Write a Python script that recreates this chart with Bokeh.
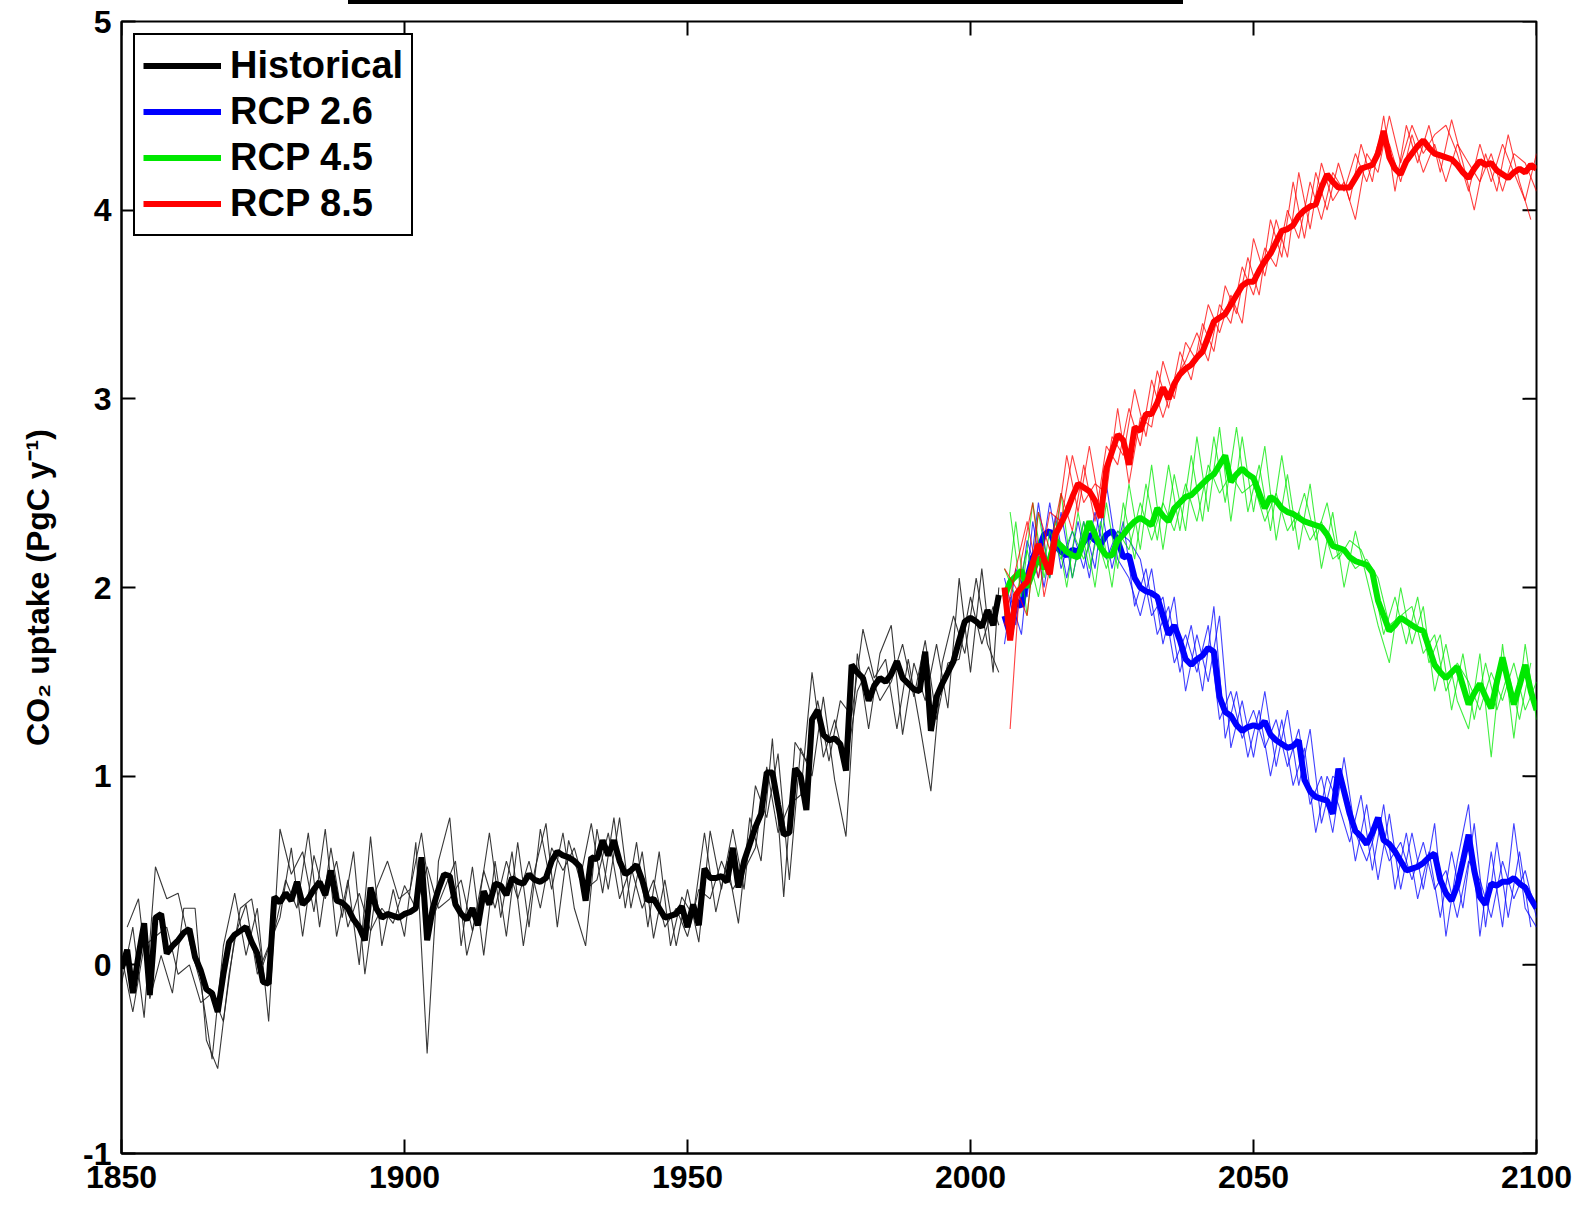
import math
from bokeh.plotting import figure
from bokeh.models import (Legend, LegendItem, FixedTicker, Range1d, Div)
from bokeh.layouts import column
from bokeh.embed import file_html
from bokeh.resources import INLINE

# ---------------- data ----------------
hist_years = list(range(1850, 2006))
hist_mean = [
    -0.02, 0.08, -0.15, 0.05, 0.22, -0.16, 0.25, 0.27, 0.06, 0.10,   # 1850s
    0.13, 0.17, 0.19, 0.04, -0.03, -0.13, -0.15, -0.25, -0.05, 0.12,  # 1860s
    0.16, 0.18, 0.20, 0.12, 0.06, -0.09, -0.10, 0.36, 0.33, 0.38,     # 1870s
    0.34, 0.44, 0.32, 0.35, 0.40, 0.44, 0.37, 0.50, 0.34, 0.33,       # 1880s
    0.30, 0.24, 0.20, 0.13, 0.41, 0.30, 0.25, 0.27, 0.26, 0.25,       # 1890s
    0.27, 0.28, 0.30, 0.57, 0.13, 0.30, 0.40, 0.48, 0.47, 0.32,       # 1900s
    0.27, 0.24, 0.30, 0.21, 0.39, 0.32, 0.43, 0.42, 0.37, 0.46,       # 1910s
    0.44, 0.43, 0.48, 0.45, 0.44, 0.46, 0.55, 0.60, 0.58, 0.57,       # 1920s
    0.55, 0.52, 0.34, 0.57, 0.56, 0.66, 0.58, 0.66, 0.55, 0.48,       # 1930s
    0.50, 0.53, 0.45, 0.34, 0.35, 0.30, 0.25, 0.26, 0.27, 0.31,       # 1940s
    0.20, 0.32, 0.21, 0.51, 0.46, 0.46, 0.47, 0.44, 0.62, 0.41,       # 1950s
    0.55, 0.64, 0.73, 0.80, 1.02, 1.02, 0.85, 0.69, 0.70, 1.04,       # 1960s
    1.00, 0.82, 1.30, 1.35, 1.22, 1.19, 1.20, 1.17, 1.03, 1.59,       # 1970s
    1.55, 1.52, 1.40, 1.48, 1.52, 1.50, 1.54, 1.61, 1.52, 1.49,       # 1980s
    1.46, 1.45, 1.66, 1.24, 1.42, 1.49, 1.55, 1.61, 1.72, 1.82,       # 1990s
    1.84, 1.82, 1.79, 1.88, 1.80, 1.96,                               # 2000-2005
]

hist_even_years = list(range(1850, 2005, 2)) + [2005]
hist_odd_years = list(range(1851, 2006, 2))
hist_member_a = [
    -0.10, 0.20, -0.28, 0.52, 0.35, 0.38, 0.12, -0.10, -0.50, 0.10,
    0.38, 0.05, 0.30, -0.30, 0.72, 0.48, 0.60, 0.28, 0.72, 0.15,
    0.45, 0.00, 0.68, 0.10, 0.40, 0.15, 0.65, -0.47, 0.55, 0.78,
    0.10, 0.52, 0.05, 0.55, 0.15, 0.65, 0.20, 0.72, 0.40, 0.70,
    0.30, 0.10, 0.72, 0.40, 0.78, 0.30, 0.60, 0.14, 0.45, 0.10,
    0.40, 0.12, 0.71, 0.40, 0.72, 0.40, 0.95, 0.78, 1.12, 0.45,
    1.15, 1.00, 1.42, 0.98, 0.68, 1.65, 1.25, 1.65, 1.80, 1.22,
    1.60, 1.40, 1.70, 1.36, 2.05, 1.55, 2.10, 1.55, 2.00,
]
hist_member_b = [
    0.20, 0.35, -0.18, 0.05, -0.15, 0.30, 0.30, -0.40, -0.55, -0.05,
    0.30, 0.35, 0.00, 0.18, 0.45, 0.30, 0.70, 0.20, 0.62, 0.25,
    0.60, -0.05, 0.40, 0.55, 0.35, 0.40, 0.70, 0.25, 0.40, 0.55,
    0.05, 0.30, 0.70, 0.25, 0.60, 0.10, 0.50, 0.75, 0.20, 0.66,
    0.45, 0.75, 0.38, 0.78, 0.30, 0.65, 0.20, 0.60, 0.10, 0.36,
    0.26, 0.70, 0.28, 0.55, 0.22, 0.78, 0.55, 1.20, 0.36, 1.18,
    1.08, 1.40, 1.08, 1.40, 1.32, 1.78, 1.52, 1.62, 1.25, 1.62,
    1.28, 0.92, 1.60, 1.85, 1.65, 2.05, 1.70, 1.55,
]
hist_member_c = [
    0.05, -0.25, 0.10, 0.15, 0.20, -0.05, 0.00, -0.20, -0.15, -0.30,
    0.15, 0.32, -0.05, 0.10, 0.25, 0.62, 0.15, 0.58, 0.35, 0.55,
    0.20, 0.38, 0.18, 0.30, 0.22, 0.42, 0.30, 0.52, 0.30, 0.35,
    0.45, 0.18, 0.50, 0.30, 0.55, 0.35, 0.55, 0.30, 0.62, 0.50,
    0.62, 0.40, 0.45, 0.70, 0.35, 0.52, 0.30, 0.45, 0.20, 0.30,
    0.15, 0.40, 0.35, 0.55, 0.40, 0.50, 0.62, 1.05, 0.70, 0.85,
    0.90, 1.55, 1.10, 1.30, 1.05, 1.45, 1.58, 1.40, 1.50, 1.70,
    1.42, 1.72, 1.30, 1.60, 1.62, 1.95, 1.70, 1.90, 1.80,
]

rcp_years = list(range(2006, 2101))
rcp26_mean = [
    1.85, 1.75, 1.93, 1.90, 2.05, 2.16, 2.20, 2.28, 2.30, 2.22,   # 2006-2015
    2.19, 2.17, 2.20, 2.19, 2.24, 2.28, 2.25, 2.23, 2.28, 2.30,   # 2016-2025
    2.25, 2.16, 2.17, 2.05, 2.00, 1.98, 1.97, 1.95, 1.85, 1.75,   # 2026-2035
    1.80, 1.72, 1.62, 1.59, 1.62, 1.64, 1.68, 1.66, 1.42, 1.34,   # 2036-2045
    1.32, 1.27, 1.24, 1.26, 1.27, 1.26, 1.29, 1.22, 1.19, 1.17,   # 2046-2055
    1.15, 1.16, 1.19, 0.98, 0.92, 0.89, 0.88, 0.87, 0.80, 1.04,   # 2056-2065
    0.92, 0.80, 0.71, 0.68, 0.64, 0.70, 0.78, 0.66, 0.64, 0.60,   # 2066-2075
    0.55, 0.50, 0.51, 0.52, 0.54, 0.57, 0.59, 0.45, 0.38, 0.34,   # 2076-2085
    0.42, 0.55, 0.69, 0.50, 0.36, 0.32, 0.43, 0.42, 0.44, 0.44,   # 2086-2095
    0.46, 0.43, 0.41, 0.35, 0.30,                                 # 2096-2100
]
rcp45_mean = [
    1.95, 2.03, 2.06, 2.09, 2.00, 2.08, 2.16, 2.10, 2.15, 2.25,
    2.22, 2.19, 2.17, 2.16, 2.25, 2.35, 2.28, 2.21, 2.17, 2.17,
    2.25, 2.28, 2.32, 2.35, 2.37, 2.35, 2.33, 2.42, 2.38, 2.35,
    2.42, 2.45, 2.48, 2.49, 2.52, 2.55, 2.58, 2.60, 2.65, 2.70,
    2.56, 2.60, 2.63, 2.60, 2.58, 2.50, 2.42, 2.48, 2.46, 2.42,
    2.40, 2.39, 2.37, 2.35, 2.34, 2.33, 2.32, 2.28, 2.22, 2.21,
    2.20, 2.16, 2.14, 2.13, 2.12, 2.08, 1.93, 1.85, 1.77, 1.80,
    1.84, 1.82, 1.80, 1.78, 1.77, 1.68, 1.59, 1.55, 1.52, 1.55,
    1.58, 1.48, 1.38, 1.44, 1.49, 1.42, 1.36, 1.50, 1.63, 1.50,
    1.38, 1.48, 1.59, 1.45, 1.35,
]
rcp85_mean = [
    2.00, 1.72, 1.96, 2.00, 2.03, 2.13, 2.23, 2.15, 2.07, 2.28,
    2.34, 2.40, 2.48, 2.55, 2.53, 2.51, 2.46, 2.37, 2.63, 2.72,
    2.81, 2.78, 2.65, 2.85, 2.83, 2.92, 2.92, 2.98, 3.06, 3.00,
    3.08, 3.13, 3.16, 3.18, 3.22, 3.25, 3.33, 3.41, 3.43, 3.45,
    3.50, 3.55, 3.60, 3.62, 3.62, 3.68, 3.73, 3.77, 3.83, 3.89,
    3.90, 3.92, 3.97, 4.00, 4.02, 4.03, 4.12, 4.19, 4.15, 4.12,
    4.12, 4.12, 4.17, 4.22, 4.23, 4.24, 4.30, 4.42, 4.28, 4.22,
    4.19, 4.26, 4.30, 4.34, 4.37, 4.33, 4.30, 4.29, 4.28, 4.27,
    4.24, 4.20, 4.17, 4.22, 4.26, 4.24, 4.25, 4.21, 4.19, 4.17,
    4.20, 4.22, 4.20, 4.24, 4.22,
]

rcp_even_years = list(range(2006, 2101, 2))
rcp_odd_years = list(range(2007, 2100, 2))

rcp26_member_a = [
    1.70, 2.10, 1.95, 2.45, 2.05, 2.40, 2.05, 2.35, 2.10, 2.55,
    2.15, 2.05, 1.85, 2.10, 1.70, 1.95, 1.45, 1.75, 1.50, 1.85,
    1.15, 1.40, 1.10, 1.45, 1.05, 1.35, 0.95, 1.25, 0.75, 1.00,
    0.95, 0.55, 0.85, 0.45, 0.80, 0.40, 0.70, 0.40, 0.75, 0.15,
    0.55, 0.85, 0.15, 0.60, 0.20, 0.75, 0.30, 0.20,
]
rcp26_member_b = [
    1.95, 1.75, 2.35, 2.00, 2.38, 2.05, 2.35, 2.05, 2.45, 2.10,
    2.35, 1.90, 2.10, 1.75, 1.90, 1.55, 1.80, 1.45, 1.90, 1.20,
    1.45, 1.10, 1.35, 1.00, 1.30, 0.95, 1.15, 0.70, 1.00, 0.85,
    0.65, 0.90, 0.50, 0.85, 0.40, 0.70, 0.35, 0.60, 0.25, 0.60,
    0.30, 0.75, 0.20, 0.65, 0.25, 0.60, 0.20,
]
rcp26_member_c = [
    2.05, 1.80, 2.25, 2.05, 2.45, 2.10, 2.30, 2.10, 2.40, 2.15,
    2.30, 2.25, 2.15, 1.85, 1.95, 1.60, 1.75, 1.55, 1.80, 1.30,
    1.45, 1.20, 1.35, 1.15, 1.30, 1.05, 1.25, 0.85, 1.00, 0.70,
    1.10, 0.70, 0.55, 0.75, 0.55, 0.65, 0.45, 0.65, 0.40, 0.50,
    0.25, 0.55, 0.45, 0.25, 0.55, 0.35, 0.50, 0.25,
]
rcp45_member_a = [
    1.85, 2.35, 1.85, 2.40, 2.05, 2.50, 2.05, 2.35, 2.00, 2.45,
    2.10, 2.55, 2.20, 2.65, 2.20, 2.60, 2.30, 2.80, 2.40, 2.85,
    2.35, 2.80, 2.40, 2.75, 2.25, 2.60, 2.20, 2.55, 2.10, 2.40,
    2.00, 2.30, 2.05, 1.80, 1.60, 2.00, 1.70, 1.90, 1.45, 1.70,
    1.40, 1.25, 1.65, 1.10, 1.70, 1.20, 1.70, 1.30,
]
rcp45_member_b = [
    2.40, 1.95, 2.45, 2.05, 2.35, 2.00, 2.40, 2.10, 2.35, 2.00,
    2.45, 2.15, 2.55, 2.25, 2.65, 2.30, 2.70, 2.35, 2.80, 2.45,
    2.85, 2.40, 2.65, 2.30, 2.70, 2.30, 2.50, 2.25, 2.45, 2.15,
    2.25, 2.20, 2.05, 1.75, 1.95, 1.70, 1.95, 1.60, 1.75, 1.35,
    1.65, 1.30, 1.60, 1.35, 1.55, 1.30, 1.60,
]
rcp45_member_c = [
    2.10, 1.95, 2.20, 1.95, 2.30, 2.15, 2.30, 2.15, 2.30, 2.10,
    2.30, 2.20, 2.45, 2.25, 2.45, 2.30, 2.55, 2.35, 2.65, 2.50,
    2.60, 2.50, 2.55, 2.35, 2.50, 2.30, 2.40, 2.25, 2.35, 2.15,
    2.20, 2.10, 2.15, 2.05, 1.80, 1.85, 1.90, 1.65, 1.75, 1.45,
    1.60, 1.50, 1.35, 1.55, 1.40, 1.60, 1.35, 1.50,
]
rcp85_member_a = [
    1.80, 2.10, 2.35, 2.05, 2.40, 2.35, 2.70, 2.45, 2.55, 2.50,
    2.95, 2.55, 2.90, 2.85, 3.20, 3.00, 3.30, 3.20, 3.50, 3.35,
    3.55, 3.40, 3.85, 3.65, 3.95, 3.75, 4.20, 3.90, 4.25, 4.05,
    4.15, 3.95, 4.30, 4.20, 4.50, 4.25, 4.45, 4.30, 4.40, 4.45,
    4.30, 4.10, 4.35, 4.15, 4.35, 4.20, 4.05, 4.30,
]
rcp85_member_b = [
    1.25, 2.15, 2.45, 1.95, 2.25, 2.70, 2.40, 2.75, 2.40, 2.80,
    2.70, 3.05, 2.80, 3.15, 2.95, 3.25, 3.10, 3.40, 3.25, 3.60,
    3.45, 3.75, 3.55, 3.95, 3.75, 4.15, 3.85, 4.20, 4.00, 4.25,
    4.05, 4.35, 4.15, 4.50, 4.10, 4.45, 4.25, 4.45, 4.20, 4.48,
    4.25, 4.00, 4.30, 4.10, 4.40, 4.15, 3.95,
]
rcp85_member_c = [
    2.10, 2.00, 1.85, 2.40, 2.20, 2.50, 2.30, 2.65, 2.35, 2.75,
    2.65, 2.95, 2.75, 3.10, 2.90, 3.10, 3.20, 3.35, 3.20, 3.50,
    3.40, 3.70, 3.55, 3.80, 3.70, 4.00, 3.85, 4.15, 3.95, 4.20,
    4.10, 4.30, 4.15, 4.35, 4.35, 4.15, 4.40, 4.20, 4.35, 4.15,
    4.35, 4.25, 4.15, 4.30, 4.10, 4.30, 4.25, 4.10,
]

legend_labels = ["Historical", "RCP 2.6", "RCP 4.5", "RCP 8.5"]
x_ticks = [1850, 1900, 1950, 2000, 2050, 2100]
y_ticks = [-1, 0, 1, 2, 3, 4, 5]
x_min, x_max = 1850, 2100
y_min, y_max = -1, 5

# ---------------- figure ----------------
FONT = "Liberation Sans"
p = figure(width=1582, height=1202, output_backend="svg", toolbar_location=None,
           x_range=Range1d(x_min, x_max), y_range=Range1d(y_min, y_max),
           min_border_left=121, min_border_right=46, min_border_top=17,
           min_border_bottom=53)
p.grid.visible = False
p.background_fill_color = "white"
p.border_fill_color = "white"
p.outline_line_color = "black"
p.outline_line_alpha = 1
p.outline_line_width = 2

for ax in (p.xaxis[0], p.yaxis[0]):
    ax.axis_line_color = "black"
    ax.axis_line_width = 2
    ax.major_tick_line_color = "black"
    ax.major_tick_line_width = 2
    ax.major_tick_in = 14
    ax.major_tick_out = 0
    ax.minor_tick_line_color = None
    ax.major_label_text_font = FONT
    ax.major_label_text_font_style = "bold"
    ax.major_label_text_font_size = "32px"
    ax.major_label_text_color = "black"

p.xaxis.ticker = FixedTicker(ticks=x_ticks)
p.yaxis.ticker = FixedTicker(ticks=y_ticks)
p.yaxis.major_label_overrides = {t: str(t) for t in y_ticks}
p.xaxis.major_label_standoff = 12
p.yaxis.major_label_standoff = 10
p.yaxis.axis_label = "CO\u2082 uptake (PgC y\u207b\u00b9)"
p.yaxis.axis_label_text_font = FONT
p.yaxis.axis_label_text_font_style = "bold"
p.yaxis.axis_label_text_font_size = "32px"
p.yaxis.axis_label_text_color = "black"
p.yaxis.axis_label_standoff = 24

# inward ticks on the top and right edges (half of each dash is clipped by the frame)
p.scatter(x_ticks, [y_max] * len(x_ticks), marker="dash", size=28, angle=math.pi / 2,
          line_color="black", line_width=2)
p.scatter([x_max] * len(y_ticks), y_ticks, marker="dash", size=28,
          line_color="black", line_width=2)

thin_w = 1.1
thick_w = 6

# historical
for yrs, vals in [(hist_even_years, hist_member_a), (hist_odd_years, hist_member_b),
                  (hist_even_years, hist_member_c)]:
    p.line(yrs, vals, line_color="#222222", line_width=thin_w, line_alpha=0.9)
r_hist = p.line(hist_years, hist_mean, line_color="black", line_width=thick_w)

scen = [
    ("#0000ff", rcp26_mean, [rcp26_member_a, rcp26_member_b, rcp26_member_c]),
    ("#00e800", rcp45_mean, [rcp45_member_a, rcp45_member_b, rcp45_member_c]),
    ("#ff0000", rcp85_mean, [rcp85_member_a, rcp85_member_b, rcp85_member_c]),
]
rends = [r_hist]
for color, mean, members in scen:
    for yrs, vals in zip([rcp_even_years, rcp_odd_years, rcp_even_years], members):
        p.line(yrs, vals, line_color=color, line_width=thin_w, line_alpha=0.75)
    rends.append(p.line(rcp_years, mean, line_color=color, line_width=thick_w))

legend = Legend(items=[LegendItem(label=l, renderers=[r]) for l, r in zip(legend_labels, rends)],
                location="top_left")
legend.label_text_font = FONT
legend.label_text_font_style = "bold"
legend.label_text_font_size = "38px"
legend.label_text_color = "black"
legend.glyph_width = 78
legend.glyph_height = 45
legend.label_height = 45
legend.label_standoff = 9
legend.spacing = 1
legend.padding = 8
legend.margin = 12
legend.border_line_color = "black"
legend.border_line_alpha = 1
legend.border_line_width = 2
legend.background_fill_alpha = 1
p.add_layout(legend)

bar = Div(text="", width=835, height=4, margin=(0, 0, 0, 348),
          styles={"background-color": "black"})
layout = column(bar, p, spacing=0)

open("out.html", "w").write(file_html(layout, INLINE))
